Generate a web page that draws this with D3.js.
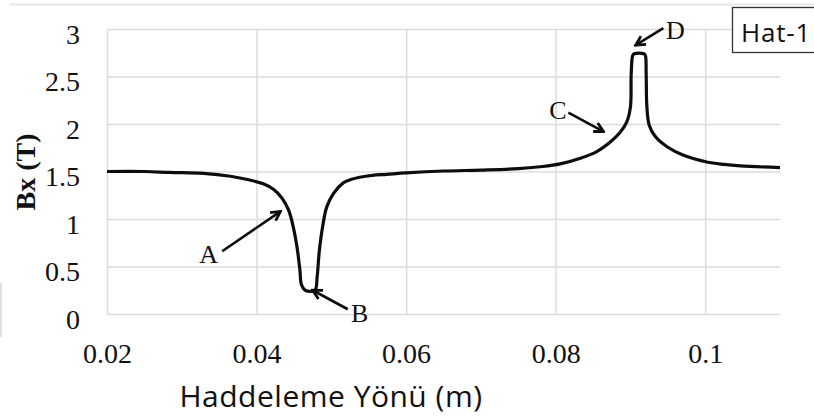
<!DOCTYPE html>
<html>
<head>
<meta charset="utf-8">
<script src="https://cdn.jsdelivr.net/npm/d3@7/dist/d3.min.js"></script>
<style>
  html, body { margin: 0; padding: 0; background: #fff; }
  svg { display: block; }
</style>
</head>
<body>
<svg id="chart" width="814" height="417"></svg>
<script>
// Bx along the rolling direction (Hat-1)
const positions = [
  0.0200, 0.0250, 0.0284, 0.0329, 0.0365, 0.0391, 0.0409, 0.0423, 0.0434, 0.0443,
  0.0449, 0.0454, 0.0458, 0.0460, 0.0465, 0.0478, 0.0481, 0.0484, 0.0489, 0.0494,
  0.0503, 0.0516, 0.0526, 0.0538, 0.0555, 0.0574, 0.0600, 0.0650, 0.0700, 0.0750,
  0.0779, 0.0806, 0.0833, 0.0855, 0.0873, 0.0886, 0.0895, 0.0900, 0.0901, 0.0903,
  0.0905, 0.0918, 0.0920, 0.0921, 0.0922, 0.0925, 0.0933, 0.0949, 0.0971, 0.1002,
  0.1025, 0.1047, 0.1100
];
const bxValues = [
  1.50, 1.50, 1.49, 1.48, 1.45, 1.41, 1.37, 1.31, 1.22, 1.09,
  0.92, 0.71, 0.46, 0.31, 0.25, 0.25, 0.39, 0.67, 0.95, 1.13,
  1.27, 1.38, 1.415, 1.44, 1.46, 1.47, 1.485, 1.505, 1.515, 1.53,
  1.55, 1.58, 1.64, 1.71, 1.81, 1.91, 2.02, 2.18, 2.53, 2.72,
  2.74, 2.74, 2.72, 2.53, 2.18, 1.99, 1.87, 1.76, 1.67, 1.60,
  1.575, 1.56, 1.54
];

const xTicks = [0.02, 0.04, 0.06, 0.08, 0.1];
const xTickLabels = ["0.02", "0.04", "0.06", "0.08", "0.1"];
const yTicks = [0, 0.5, 1, 1.5, 2, 2.5, 3];
const yTickLabels = ["0", "0.5", "1", "1.5", "2", "2.5", "3"];

// Callouts in data units: label position, arrow tail, arrow tip
const calloutLabels = ["A", "B", "C", "D"];
const calloutLabelAt = [[0.0336, 0.63], [0.0538, 0.01], [0.0803, 2.14], [0.0960, 2.98]];
const calloutTail = [[0.0354, 0.66], [0.0522, 0.05], [0.0817, 2.12], [0.0944, 3.01]];
const calloutTip = [[0.0432, 1.08], [0.0475, 0.25], [0.0864, 1.92], [0.0907, 2.83]];

const xLabel = "Haddeleme Yönü (m)";
const yLabel = "Bx (T)";
const seriesName = "Hat-1";

const svg = d3.select("#chart");
const plot = { left: 107, right: 780, top: 29, bottom: 314 };

const x = d3.scaleLinear().domain([0.02, 0.11]).range([plot.left, plot.right]);
const y = d3.scaleLinear().domain([0, 3]).range([plot.bottom, plot.top]);

const serif = "'Liberation Serif', 'Times New Roman', serif";
const sans = "'Open Sans', 'Noto Sans', sans-serif";
const gridColor = "#dcdcdc";

// outer frame fragments
svg.append("line").attr("x1", 10).attr("x2", 814).attr("y1", 4.5).attr("y2", 4.5)
  .attr("stroke", "#e6e6e6").attr("stroke-width", 2);
svg.append("line").attr("x1", 1).attr("x2", 1).attr("y1", 283).attr("y2", 337)
  .attr("stroke", "#e0e0e0").attr("stroke-width", 2);

// horizontal grid + y labels
const yAxis = d3.axisLeft(y)
  .tickValues(yTicks)
  .tickFormat((d, i) => yTickLabels[i])
  .tickSize(-(plot.right - plot.left))
  .tickPadding(27);
const gy = svg.append("g").attr("transform", `translate(${plot.left},0)`).call(yAxis);
gy.select(".domain").remove();
gy.selectAll(".tick line").attr("stroke", gridColor).attr("stroke-width", 1.5);
gy.selectAll(".tick text")
  .attr("font-family", serif).attr("font-size", 28).attr("fill", "#111")
  .attr("dy", 14);

// vertical grid + x labels
const xAxis = d3.axisBottom(x)
  .tickValues(xTicks)
  .tickFormat((d, i) => xTickLabels[i])
  .tickSize(-(plot.bottom - plot.top))
  .tickPadding(0);
const gx = svg.append("g").attr("transform", `translate(0,${plot.bottom})`).call(xAxis);
gx.select(".domain").remove();
gx.selectAll(".tick line").attr("stroke", gridColor).attr("stroke-width", 1.5);
gx.selectAll(".tick text")
  .attr("font-family", serif).attr("font-size", 28).attr("fill", "#111")
  .attr("y", 49).attr("dy", 0);

// the curve
const pts = positions.map((p, i) => [p, bxValues[i]]);
const line = d3.line().x(d => x(d[0])).y(d => y(d[1])).curve(d3.curveCatmullRom.alpha(0.5));
svg.append("path").datum(pts)
  .attr("d", line)
  .attr("fill", "none").attr("stroke", "#0d0d0d").attr("stroke-width", 3.2)
  .attr("stroke-linejoin", "round");

// arrowheads
svg.append("defs").append("marker")
  .attr("id", "head").attr("viewBox", "0 0 12 12")
  .attr("refX", 10).attr("refY", 6)
  .attr("markerUnits", "userSpaceOnUse")
  .attr("markerWidth", 13).attr("markerHeight", 13)
  .attr("orient", "auto")
  .append("path").attr("d", "M1.5,1.5 L10,6 L1.5,10.5")
  .attr("fill", "none").attr("stroke", "#0d0d0d").attr("stroke-width", 2.6)
  .attr("stroke-linejoin", "miter");

calloutLabels.forEach((lab, i) => {
  svg.append("line")
    .attr("x1", x(calloutTail[i][0])).attr("y1", y(calloutTail[i][1]))
    .attr("x2", x(calloutTip[i][0])).attr("y2", y(calloutTip[i][1]))
    .attr("stroke", "#0d0d0d").attr("stroke-width", 2.6)
    .attr("marker-end", "url(#head)");
  svg.append("text")
    .attr("x", x(calloutLabelAt[i][0])).attr("y", y(calloutLabelAt[i][1]))
    .attr("text-anchor", "middle").attr("dominant-baseline", "central")
    .attr("font-family", serif).attr("font-size", 26).attr("fill", "#111")
    .text(lab);
});

// axis titles
svg.append("text")
  .attr("transform", "translate(35,172) rotate(-90)")
  .attr("text-anchor", "middle")
  .attr("font-family", serif).attr("font-weight", "bold").attr("font-size", 28)
  .attr("fill", "#111")
  .text(yLabel);

svg.append("text")
  .attr("x", 331).attr("y", 407)
  .attr("text-anchor", "middle")
  .attr("font-family", sans).attr("font-size", 30).attr("letter-spacing", 0.5)
  .attr("fill", "#111")
  .text(xLabel);

// series tag
svg.append("rect")
  .attr("x", 732.5).attr("y", 7.5).attr("width", 100).attr("height", 45)
  .attr("fill", "#fff").attr("stroke", "#333").attr("stroke-width", 1.3);
svg.append("text")
  .attr("x", 741).attr("y", 42)
  .attr("font-family", sans).attr("font-size", 26).attr("letter-spacing", 0.8)
  .attr("fill", "#111")
  .text(seriesName);
</script>
</body>
</html>
